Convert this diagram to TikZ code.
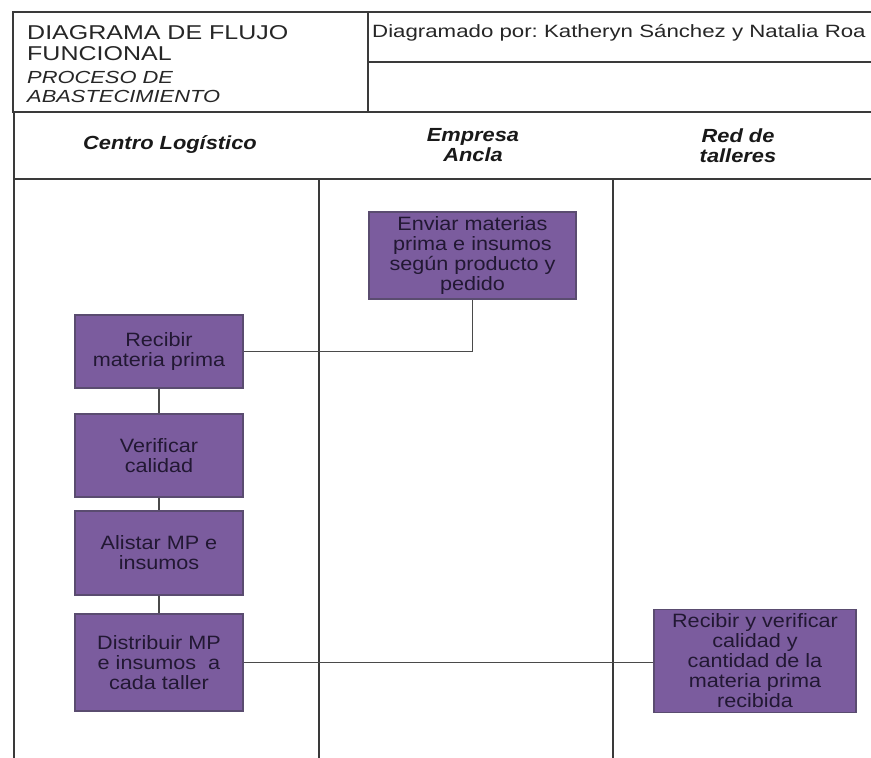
\documentclass[tikz,border=0pt]{standalone}
\usepackage{fontspec}
\setmainfont{Liberation Sans}[FakeStretch=1.12]
\newfontfamily\headfont{Liberation Sans}[FakeStretch=1.25]
\newfontfamily\lanefont{Liberation Sans}[FakeStretch=1.15]
\frenchspacing

\definecolor{boxfill}{HTML}{7B5C9E}
\definecolor{boxedge}{HTML}{5A4C70}
\definecolor{boxtext}{HTML}{221833}
\definecolor{frameline}{HTML}{3A3A3A}
\definecolor{linkline}{HTML}{4A4A4A}

\tikzset{
  frame/.style={draw=frameline, line width=1.6pt},
  thinframe/.style={draw=frameline, line width=1.2pt},
  task/.style={draw=boxedge, line width=1.6pt, fill=boxfill, text=boxtext,
    align=center, inner sep=0pt,
    font=\fontsize{19.3}{20}\selectfont},
  lanetitle/.style={align=center, inner sep=0pt, text=black!90,
    font=\lanefont\fontsize{19}{20.5}\selectfont\bfseries\itshape},
  headline/.style={anchor=base west, inner sep=0pt, text=black!85},
  link/.style={draw=linkline, line width=1.3pt},
}

\begin{document}
\begin{tikzpicture}[x=1pt, y=-1pt]
\useasboundingbox (0,0) rectangle (871,758);
\fill[white] (0,0) rectangle (871,758);

% title block
\draw[frame] (13,12) rectangle (880,112);
\draw[frame] (368,12) -- (368,112);
\draw[thinframe] (368,62) -- (880,62);
\node[headline, font=\headfont\fontsize{20}{20}\selectfont] (t1) at (27,39.5) {DIAGRAMA DE FLUJO};
\node[headline, font=\headfont\fontsize{20}{20}\selectfont] (t2) at (27,60) {FUNCIONAL};
\node[headline, font=\headfont\fontsize{17.5}{18}\selectfont\itshape] (t3) at (27,83) {PROCESO DE};
\node[headline, font=\headfont\fontsize{17.5}{18}\selectfont\itshape] (t4) at (27,102.5) {ABASTECIMIENTO};
\node[headline, font=\headfont\fontsize{17.8}{18}\selectfont] (auth) at (372,37.5) {Diagramado por: Katheryn Sánchez y Natalia Roa};

% swimlane frame
\draw[thinframe] (14,112) -- (14,760);
\draw[frame] (14,179) -- (880,179);
\draw[thinframe] (319,179) -- (319,760);
\draw[thinframe] (613,179) -- (613,760);

% lane titles
\node[lanetitle, anchor=base] (lane1) at (170,149) {Centro Logístico};
\node[lanetitle, anchor=base] (lane2a) at (473,141) {Empresa};
\node[lanetitle, anchor=base] (lane2b) at (473,161.5) {Ancla};
\node[lanetitle, anchor=base] (lane3a) at (738,142) {Red de};
\node[lanetitle, anchor=base] (lane3b) at (738,162) {talleres};

% process steps
\node[task, minimum width=207pt, minimum height=87pt] (enviar) at (472.5,255.5)
  {Enviar materias\\prima e insumos\\según producto y\\pedido};
\node[task, minimum width=168pt, minimum height=73pt] (recibir) at (159,351.5)
  {Recibir\\materia prima};
\node[task, minimum width=168pt, minimum height=83pt] (verificar) at (159,455.5)
  {Verificar\\calidad};
\node[task, minimum width=168pt, minimum height=84pt] (alistar) at (159,553)
  {Alistar MP e\\insumos};
\node[task, minimum width=168pt, minimum height=97pt] (distribuir) at (159,662.5)
  {Distribuir MP\\e insumos~ a\\cada taller};
\node[task, minimum width=202pt, minimum height=103pt] (recver) at (755,661)
  {Recibir y verificar\\calidad y\\cantidad de la\\materia prima\\recibida};

% connectors
\draw[link] (recibir.east) -| (enviar.south);
\draw[link] (recibir.south) -- (verificar.north);
\draw[link] (verificar.south) -- (alistar.north);
\draw[link] (alistar.south) -- (distribuir.north);
\draw[link] (distribuir.east) -- (distribuir.east -| recver.west);
\end{tikzpicture}
\end{document}
